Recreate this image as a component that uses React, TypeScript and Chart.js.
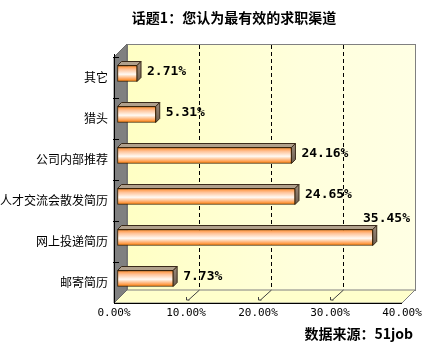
import React, { useEffect, useRef } from 'react';
import { Chart, registerables } from 'chart.js';

Chart.register(...registerables);

// ---- data ----
const categories = ['其它', '猎头', '公司内部推荐', '人才交流会散发简历', '网上投递简历', '邮寄简历'];
const shares = [2.71, 5.31, 24.16, 24.65, 35.45, 7.73];
const axisMin = 0;
const axisMax = 40;
const axisStep = 10;
const titleText = '话题1：您认为最有效的求职渠道';
const sourceText = '数据来源：51job';

// ---- 3D look ----
const DEPTH = 13; // wall depth
const SHIFT_X = 3.5; // bar front face offset inside the depth
const SHIFT_Y = -4;
const BAR_DX = 4; // bar own depth
const BAR_DY = -4;

const CJK = "'Noto Sans CJK SC', 'Noto Sans', sans-serif";
const MONO = "'DejaVu Sans Mono', 'Liberation Mono', monospace";

const walls3d = {
  id: 'walls3d',
  beforeDraw(chart: any) {
    const { ctx, chartArea } = chart;
    const L = chartArea.left, R = chartArea.right, T = chartArea.top, B = chartArea.bottom;
    const D = DEPTH;
    const xs = chart.scales.x;
    ctx.save();
    // back wall
    const g = ctx.createLinearGradient(L + D, 0, R + D, 0);
    g.addColorStop(0, '#FFFFC4');
    g.addColorStop(0.6, '#FFFFDC');
    g.addColorStop(1, '#FFFFE4');
    ctx.fillStyle = g;
    ctx.fillRect(L + D, T - D, R - L, B - T);
    ctx.strokeStyle = '#808080';
    ctx.lineWidth = 1;
    ctx.strokeRect(L + D + 0.5, T - D + 0.5, R - L, B - T);
    // floor
    ctx.beginPath();
    ctx.moveTo(L, B);
    ctx.lineTo(R, B);
    ctx.lineTo(R + D, B - D);
    ctx.lineTo(L + D, B - D);
    ctx.closePath();
    ctx.fillStyle = '#FFFFCC';
    ctx.fill();
    ctx.strokeStyle = '#808080';
    ctx.stroke();
    // left wall
    ctx.beginPath();
    ctx.moveTo(L, T);
    ctx.lineTo(L + D, T - D);
    ctx.lineTo(L + D, B - D);
    ctx.lineTo(L, B);
    ctx.closePath();
    ctx.fillStyle = '#808080';
    ctx.fill();
    ctx.strokeStyle = '#6a6a6a';
    ctx.stroke();
    // gridlines on back wall and floor
    for (let v = axisMin + axisStep; v < axisMax; v += axisStep) {
      const x = Math.round(xs.getPixelForValue(v)) + 0.5;
      ctx.strokeStyle = '#000000';
      ctx.setLineDash([4, 3]);
      ctx.beginPath();
      ctx.moveTo(x + D, T - D + 1);
      ctx.lineTo(x + D, B - D);
      ctx.stroke();
      ctx.setLineDash([]);
      ctx.strokeStyle = '#404040';
      ctx.beginPath();
      ctx.moveTo(x, B - 6);
      ctx.lineTo(x, B - 3);
      ctx.lineTo(x + 3, B - 3);
      ctx.moveTo(x + 2, B - 3);
      ctx.lineTo(x + D, B - D);
      ctx.stroke();
    }
    // axis lines
    ctx.strokeStyle = '#000000';
    ctx.beginPath();
    ctx.moveTo(L, B + 0.5);
    ctx.lineTo(R, B + 0.5);
    ctx.moveTo(L + 0.5, T - 3);
    ctx.lineTo(L + 0.5, B);
    ctx.stroke();
    // category tick marks
    const n = categories.length;
    ctx.beginPath();
    for (let i = 0; i < n; i++) {
      const y = Math.round(T + (i * (B - T)) / n) + 0.5;
      ctx.moveTo(L - 1, y);
      ctx.lineTo(L + 5, y);
    }
    ctx.stroke();
    ctx.restore();
  },
  beforeDatasetDraw(chart: any, args: any) {
    const { ctx } = chart;
    ctx.save();
    ctx.translate(SHIFT_X, SHIFT_Y);
    const meta = args.meta;
    meta.data.forEach((el: any) => {
      const p = el.getProps(['x', 'y', 'base', 'height'], true);
      const left = Math.min(p.base, p.x);
      const right = Math.max(p.base, p.x);
      const top = p.y - p.height / 2;
      const bottom = p.y + p.height / 2;
      // top face
      ctx.beginPath();
      ctx.moveTo(left, top);
      ctx.lineTo(left + BAR_DX, top + BAR_DY);
      ctx.lineTo(right + BAR_DX, top + BAR_DY);
      ctx.lineTo(right, top);
      ctx.closePath();
      ctx.fillStyle = '#B0A08C';
      ctx.fill();
      ctx.strokeStyle = '#3a2a1a';
      ctx.lineWidth = 1;
      ctx.stroke();
      // side face
      const sg = ctx.createLinearGradient(0, top + BAR_DY, 0, bottom);
      sg.addColorStop(0, '#9C8C7C');
      sg.addColorStop(1, '#6C5E50');
      ctx.beginPath();
      ctx.moveTo(right, top);
      ctx.lineTo(right + BAR_DX, top + BAR_DY);
      ctx.lineTo(right + BAR_DX, bottom + BAR_DY);
      ctx.lineTo(right, bottom);
      ctx.closePath();
      ctx.fillStyle = sg;
      ctx.fill();
      ctx.stroke();
    });
  },
  afterDatasetDraw(chart: any) {
    chart.ctx.restore();
  },
  afterDatasetsDraw(chart: any) {
    const { ctx, chartArea } = chart;
    const meta = chart.getDatasetMeta(0);
    const limit = chartArea.right + DEPTH - 4;
    ctx.save();
    ctx.font = `bold 13px ${MONO}`;
    ctx.fillStyle = '#000000';
    ctx.textBaseline = 'middle';
    ctx.textAlign = 'left';
    meta.data.forEach((el: any, i: number) => {
      const p = el.getProps(['x', 'y', 'height'], true);
      const text = shares[i].toFixed(2) + '%';
      const w = ctx.measureText(text).width;
      let tx = p.x + SHIFT_X + 10;
      let ty = p.y + SHIFT_Y - 2;
      if (tx + w > limit) {
        tx = limit - w - 1;
        ty = p.y + SHIFT_Y - p.height / 2 - 11;
      }
      ctx.fillText(text, tx, ty);
    });
    ctx.restore();
  },
  afterDraw(chart: any) {
    const { ctx } = chart;
    ctx.save();
    ctx.fillStyle = '#000000';
    ctx.textBaseline = 'middle';
    ctx.font = `bold 14px ${CJK}`;
    ctx.textAlign = 'center';
    ctx.fillText(titleText, 234, 17.5);
    ctx.textAlign = 'right';
    ctx.fillText(sourceText, 413, 334);
    ctx.restore();
  },
};

function frontGradient(context: any) {
  const chart = context.chart;
  const ys = chart.scales && chart.scales.y;
  if (!chart.chartArea || !ys) return '#FF9933';
  const yc = ys.getPixelForValue(context.dataIndex);
  const h = 16;
  const g = chart.ctx.createLinearGradient(0, yc - h / 2, 0, yc + h / 2);
  g.addColorStop(0, '#FF8A2A');
  g.addColorStop(0.25, '#FFC49A');
  g.addColorStop(0.55, '#FFFAF4');
  g.addColorStop(0.8, '#FFB070');
  g.addColorStop(1, '#FF7A00');
  return g;
}

export default function App() {
  const ref = useRef<HTMLCanvasElement>(null);
  useEffect(() => {
    if (!ref.current) return;
    Chart.defaults.font.family = CJK;
    const chart = new Chart(ref.current, {
      type: 'bar',
      data: {
        labels: categories,
        datasets: [
          {
            data: shares,
            backgroundColor: frontGradient,
            borderColor: '#3a2000',
            borderWidth: 1,
            borderSkipped: false,
            barThickness: 16,
            clip: false as any,
          },
        ],
      },
      plugins: [walls3d],
      options: {
        indexAxis: 'y',
        responsive: false,
        animation: false,
        devicePixelRatio: 1,
        layout: { padding: { top: 57, right: 26, bottom: 31, left: 0 } },
        plugins: {
          legend: { display: false },
          title: { display: false },
          tooltip: { enabled: false },
        },
        scales: {
          x: {
            min: axisMin,
            max: axisMax,
            grid: { display: false, drawTicks: false },
            border: { display: false },
            ticks: {
              stepSize: axisStep,
              padding: 4,
              color: '#000000',
              font: { family: MONO, size: 11 },
              maxRotation: 0,
              callback: (v: any) => Number(v).toFixed(2) + '%',
            },
            afterFit: (s: any) => {
              s.height = 20;
            },
          },
          y: {
            grid: { display: false, drawTicks: false },
            border: { display: false },
            ticks: {
              padding: 6,
              color: '#000000',
              font: { family: CJK, size: 12 },
            },
            afterFit: (s: any) => {
              s.width = 114;
            },
          },
        },
      },
    });
    return () => chart.destroy();
  }, []);
  return (
    <div style={{ position: 'absolute', left: 0, top: 0, width: 428, height: 354, background: '#ffffff' }}>
      <canvas ref={ref} width={428} height={354} style={{ display: 'block' }} />
    </div>
  );
}
